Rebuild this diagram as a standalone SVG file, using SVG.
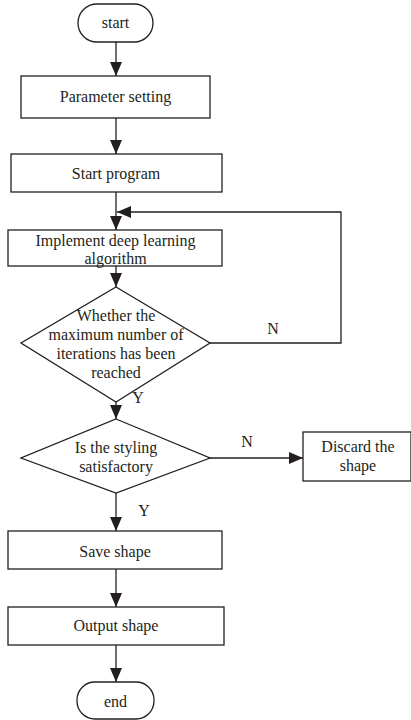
<svg xmlns="http://www.w3.org/2000/svg" width="411" height="720" viewBox="0 0 411 720">
<defs>
<style>
.s{fill:#fff;stroke:#231f20;stroke-width:1.3}
.c{fill:none;stroke:#231f20;stroke-width:1.3}
.t{font-family:"Liberation Serif","Times New Roman",serif;font-size:16px;fill:#231f20;text-anchor:middle}
</style>
<marker id="ah" markerUnits="userSpaceOnUse" markerWidth="14" markerHeight="12" refX="14" refY="6" orient="auto">
<path d="M0,0 L14,6 L0,12 Z" fill="#231f20"/>
</marker>
</defs>
<rect width="411" height="720" fill="#fff"/>
<g id="connectors">
<line class="c" x1="116" y1="42" x2="116" y2="76" marker-end="url(#ah)"/>
<line class="c" x1="116" y1="118" x2="116" y2="154" marker-end="url(#ah)"/>
<line class="c" x1="116" y1="192" x2="116" y2="230" marker-end="url(#ah)"/>
<line class="c" x1="116" y1="266" x2="116" y2="287" marker-end="url(#ah)"/>
<polyline class="c" points="210,343 341,343 341,212 117,212" marker-end="url(#ah)"/>
<line class="c" x1="116" y1="402" x2="116" y2="419" marker-end="url(#ah)"/>
<line class="c" x1="210" y1="458" x2="303" y2="458" marker-end="url(#ah)"/>
<line class="c" x1="116" y1="493" x2="116" y2="531" marker-end="url(#ah)"/>
<line class="c" x1="116" y1="569" x2="116" y2="607" marker-end="url(#ah)"/>
<line class="c" x1="116" y1="645" x2="116" y2="682" marker-end="url(#ah)"/>
<text class="t" x="273" y="334">N</text>
<text class="t" x="138" y="403">Y</text>
<text class="t" x="247" y="447">N</text>
<text class="t" x="144" y="516">Y</text>
</g>
<g id="start">
<rect class="s" x="78" y="4" width="75" height="38" rx="19"/>
<text class="t" x="115.5" y="28">start</text>
</g>
<g id="param">
<rect class="s" x="21" y="76" width="189" height="42"/>
<text class="t" x="115.5" y="102">Parameter setting</text>
</g>
<g id="startprog">
<rect class="s" x="11" y="154" width="211" height="38"/>
<text class="t" x="116" y="179">Start program</text>
</g>
<g id="implement">
<rect class="s" x="8" y="230" width="214" height="36"/>
<text class="t" x="115.5" y="246">Implement deep learning</text>
<text class="t" x="115.5" y="264">algorithm</text>
</g>
<g id="decision1">
<polygon class="s" points="116,287 210,343 116,402 21,343"/>
<text class="t" x="116" y="321">Whether the</text>
<text class="t" x="116" y="340">maximum number of</text>
<text class="t" x="116" y="359">iterations has been</text>
<text class="t" x="116" y="378">reached</text>
</g>
<g id="decision2">
<polygon class="s" points="116,419 210,458 116,493 21,458"/>
<text class="t" x="116" y="453">Is the styling</text>
<text class="t" x="116" y="472">satisfactory</text>
</g>
<g id="discard">
<rect class="s" x="303" y="432" width="108" height="49"/>
<text class="t" x="358" y="452">Discard the</text>
<text class="t" x="358" y="471">shape</text>
</g>
<g id="save">
<rect class="s" x="8" y="531" width="214" height="38"/>
<text class="t" x="115" y="557">Save shape</text>
</g>
<g id="output">
<rect class="s" x="8" y="607" width="216" height="38"/>
<text class="t" x="116" y="631">Output shape</text>
</g>
<g id="end">
<rect class="s" x="77" y="682" width="77" height="37" rx="18"/>
<text class="t" x="115.5" y="707">end</text>
</g>
</svg>
